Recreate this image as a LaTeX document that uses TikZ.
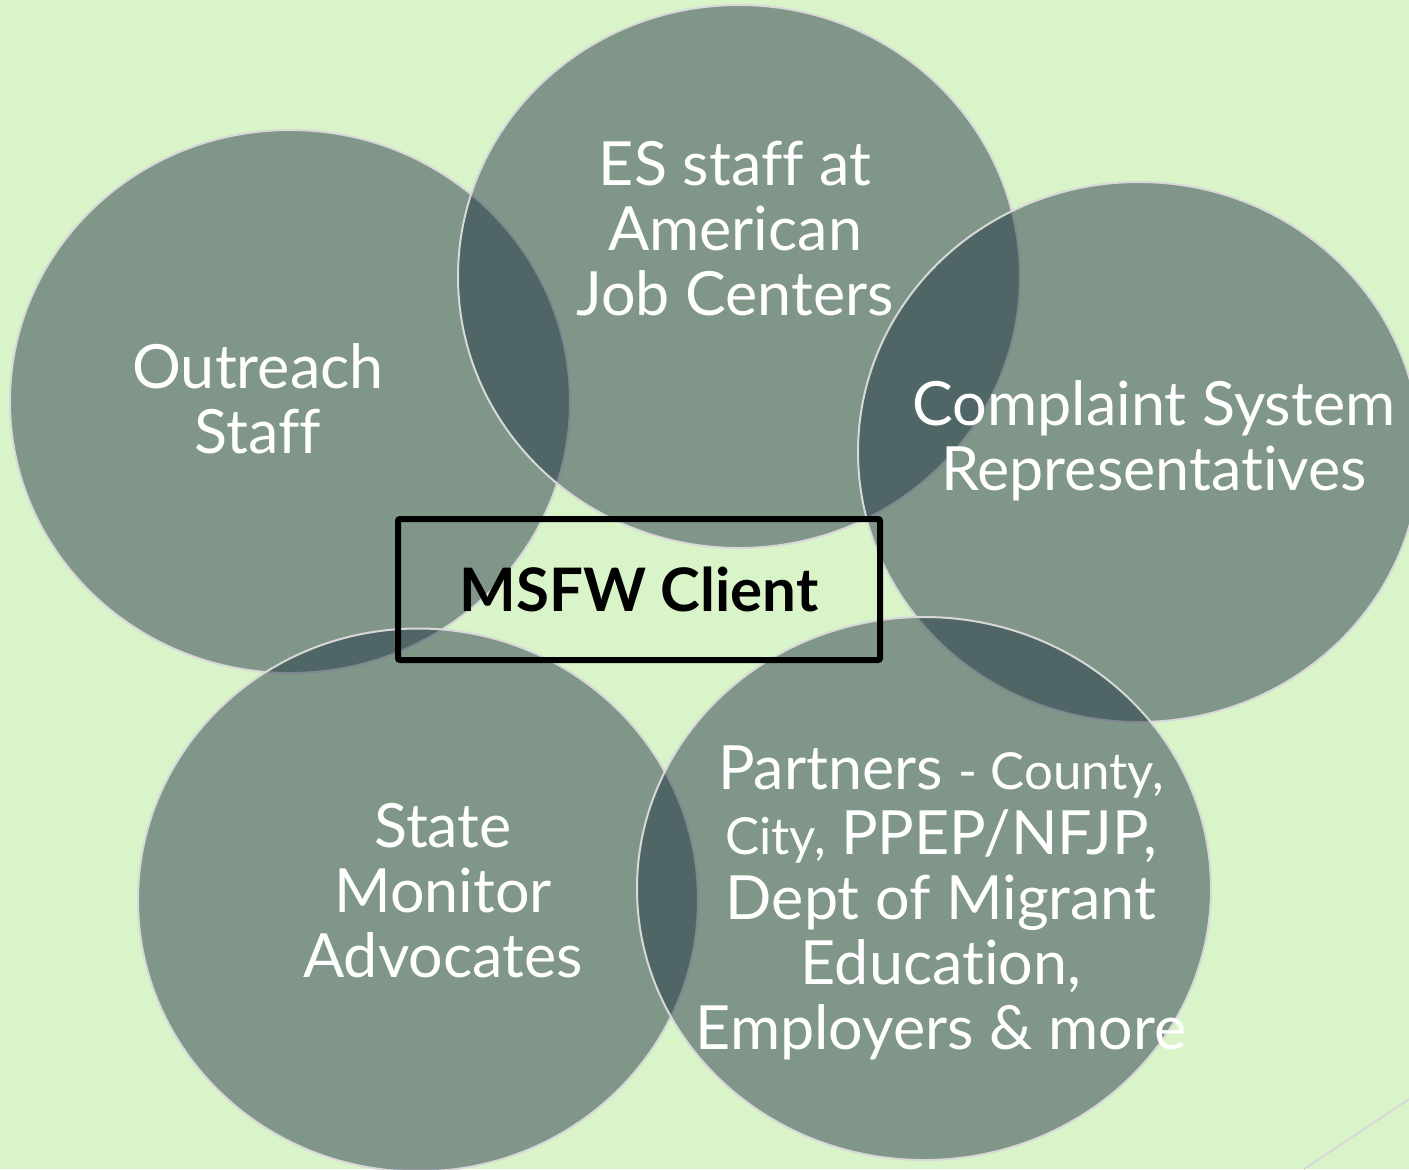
\documentclass[tikz,border=0pt]{standalone}
\usepackage{fontspec}
\setmainfont{Lato}[Ligatures = NoCommon]
\usetikzlibrary{shapes.geometric}
\definecolor{bggreen}{RGB}{217,244,201}
\definecolor{bubblefill}{RGB}{28,46,63}
\definecolor{rimgray}{RGB}{216,216,216}
\tikzset{bubble/.style = {ellipse, fill = bubblefill, fill opacity = 0.47, draw = rimgray,
                          line width = 1pt, inner sep = 0, minimum width = 281pt, minimum height = 271.5pt}}
\tikzset{bubbletext/.style = {text = white, align = center, inner sep = 0,
                              font = \fontsize{30.5pt}{32.5pt}\selectfont}}
\tikzset{clientbox/.style = {draw = black, line width = 3pt, rounded corners = 1pt, inner sep = 0,
                             minimum width = 241pt, minimum height = 70.5pt,
                             font = \bfseries\fontsize{30pt}{36pt}\selectfont}}
\newcommand{\smalltxt}{\fontsize{25.5pt}{32.5pt}\selectfont}

\begin{document}
\begin{tikzpicture}[x = 0.5pt, y = -0.5pt]
      \useasboundingbox (0, 0) rectangle (1409, 1169);
      \fill [bggreen] (0, 0) rectangle (1409, 1169);
      \draw [rimgray, line width = 1pt] (1304, 1169) -- (1409, 1099);
      \node [bubble, minimum width = 280pt] (outreach) at (290, 401.5) {};
      \node [bubble] (esstaff) at (739, 276.5) {};
      \node [bubble, minimum height = 270pt] (complaint) at (1139, 452) {};
      \node [bubble, minimum width = 280pt] (monitor) at (418, 900) {};
      \node [bubble, minimum width = 287pt] (partners) at (924, 888.5) {};
      \node [bubbletext] (outreachtext) at (258, 399) {Outreach\\Staff};
      \node [bubbletext] (estext) at (735, 229) {ES staff at\\American\\Job Centers};
      \node [bubbletext] (complainttext) at (1154, 441) {Complaint System\\Representatives};
      \node [bubbletext] (monitortext) at (443, 891) {State\\Monitor\\Advocates};
      \node [bubbletext] (partnerstext) at (941, 903) {Partners {\smalltxt - County,}\\{\smalltxt City,} PPEP/NFJP,\\Dept of Migrant\\Education,\\Employers \& more};
      \node [clientbox] (client) at (639, 589.5) {MSFW Client};
    \end{tikzpicture}
\end{document}
